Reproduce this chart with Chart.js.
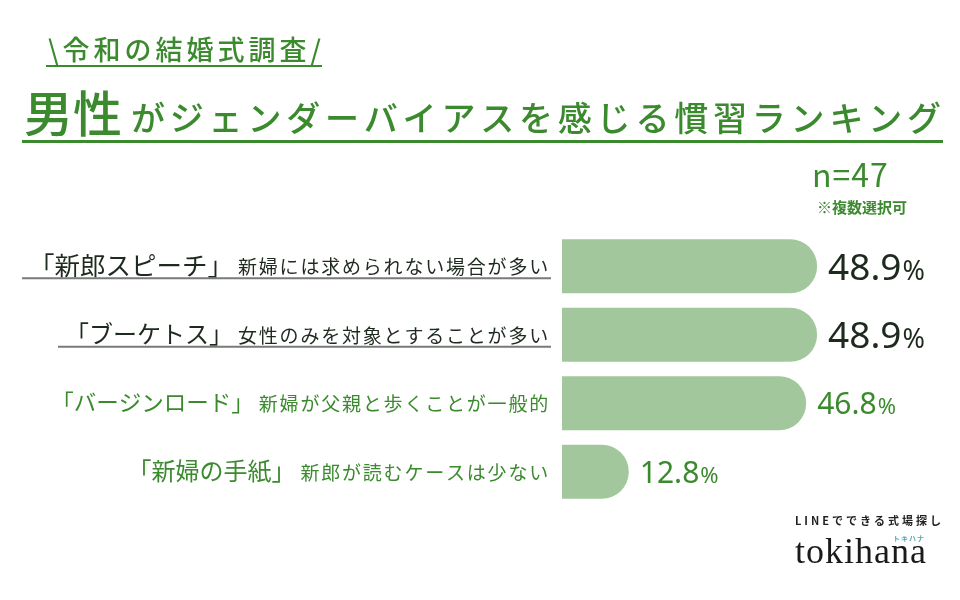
<!DOCTYPE html>
<html lang="ja">
<head>
<meta charset="utf-8">
<script src="https://cdn.jsdelivr.net/npm/chart.js@4"></script>
<style>
  html, body { margin: 0; padding: 0; background: #fff; }
  #wrap { width: 960px; height: 600px; }
</style>
</head>
<body>
<div id="wrap"><canvas id="rankChart" width="960" height="600"></canvas></div>
<script>
// データ
const labelMain = ['「新郎スピーチ」', '「ブーケトス」', '「バージンロード」', '「新婦の手紙」'];
const labelSub = ['新婦には求められない場合が多い', '女性のみを対象とすることが多い', '新婦が父親と歩くことが一般的', '新郎が読むケースは少ない'];
const rates = [48.9, 48.9, 46.8, 12.8];
const sampleText = 'n=47';
const noteText = '※複数選択可';

const GREEN = '#3b8a2e';
const DARK = '#1f2a1f';
const JP = '"Noto Sans CJK JP", "Noto Sans", sans-serif';

// 上位2つは黒文字+下線、それ以外は緑
const rowColor = (i) => (i < 2 ? DARK : GREEN);
const bigSizes = [25.5, 24, 22.5, 24];

const decoPlugin = {
  id: 'deco',
  afterDraw(chart) {
    const ctx = chart.ctx;
    const meta = chart.getDatasetMeta(0);
    ctx.save();

    // 見出し
    ctx.fillStyle = GREEN;
    ctx.textBaseline = 'alphabetic';
    ctx.textAlign = 'left';
    ctx.letterSpacing = '4px';
    ctx.font = '500 27px ' + JP;
    ctx.fillText('\\令和の結婚式調査/', 48, 60);
    ctx.fillRect(46, 65, 276, 2);

    ctx.letterSpacing = '0px';
    ctx.font = '500 49px ' + JP;
    ctx.fillText('男性', 24, 132);
    const w = ctx.measureText('男性').width;
    ctx.letterSpacing = '4.8px';
    ctx.font = '500 34px ' + JP;
    ctx.fillText('がジェンダーバイアスを感じる慣習ランキング', 24 + w + 9, 131);
    ctx.fillRect(22, 140, 921, 3);

    // n数
    ctx.letterSpacing = '1px';
    ctx.font = '32px ' + JP;
    ctx.fillText(sampleText, 812, 187);
    ctx.letterSpacing = '0px';
    ctx.font = 'bold 15px ' + JP;
    ctx.fillText(noteText, 817, 213);

    // ラベルと値
    meta.data.forEach((bar, i) => {
      const y = bar.y;
      ctx.fillStyle = rowColor(i);
      ctx.textBaseline = 'middle';
      ctx.textAlign = 'right';

      ctx.letterSpacing = '1.8px';
      ctx.font = '19px ' + JP;
      ctx.fillText(labelSub[i], 550, y + 1);
      const subW = ctx.measureText(labelSub[i]).width;
      ctx.letterSpacing = '0px';
      ctx.font = bigSizes[i] + 'px ' + JP;
      const bigRight = 550 - subW - 5;
      ctx.fillText(labelMain[i], bigRight, y - 1);
      const bigW = ctx.measureText(labelMain[i]).width;

      if (i < 2) {
        ctx.fillStyle = '#7a7a7a';
        const lx = bigRight - bigW - 7;
        ctx.fillRect(lx, y + 11, 551 - lx, 2);
      }

      // 値
      ctx.textAlign = 'left';
      ctx.textBaseline = 'alphabetic';
      ctx.fillStyle = rowColor(i);
      const numSize = i < 2 ? 37 : 30;
      ctx.font = numSize + 'px "Noto Sans", sans-serif';
      const num = rates[i].toFixed(1);
      const x0 = bar.x + 11;
      const base = y + numSize * 0.37;
      ctx.fillText(num, x0, base);
      const nw = ctx.measureText(num).width;
      ctx.font = Math.round(numSize * 0.72) + 'px "Noto Sans", sans-serif';
      ctx.fillText('%', x0 + nw + 1, base);
    });

    // ロゴ
    ctx.textAlign = 'left';
    ctx.textBaseline = 'alphabetic';
    ctx.fillStyle = '#222';
    ctx.letterSpacing = '3px';
    ctx.font = 'bold 11px ' + JP;
    ctx.fillText('LINEでできる式場探し', 795, 525);
    ctx.fillStyle = '#5ba7b2';
    ctx.letterSpacing = '1px';
    ctx.font = 'bold 7px ' + JP;
    ctx.fillText('トキハナ', 893, 541);
    ctx.fillStyle = '#1a1a1a';
    ctx.letterSpacing = '1px';
    ctx.font = '36px "Liberation Serif", serif';
    ctx.fillText('tokihana', 795, 563);

    ctx.restore();
  }
};

new Chart(document.getElementById('rankChart'), {
  type: 'bar',
  data: {
    labels: labelMain,
    datasets: [{
      data: rates,
      backgroundColor: '#a2c79c',
      borderWidth: 0,
      borderRadius: 27,
      borderSkipped: 'start',
      categoryPercentage: 1,
      barPercentage: 0.79
    }]
  },
  options: {
    indexAxis: 'y',
    responsive: false,
    animation: false,
    layout: { padding: { left: 562, right: 85, top: 232, bottom: 94 } },
    plugins: { legend: { display: false }, tooltip: { enabled: false }, title: { display: false } },
    scales: {
      x: { display: false, min: 0, max: 60 },
      y: { display: false }
    }
  },
  plugins: [decoPlugin]
});
</script>
</body>
</html>
